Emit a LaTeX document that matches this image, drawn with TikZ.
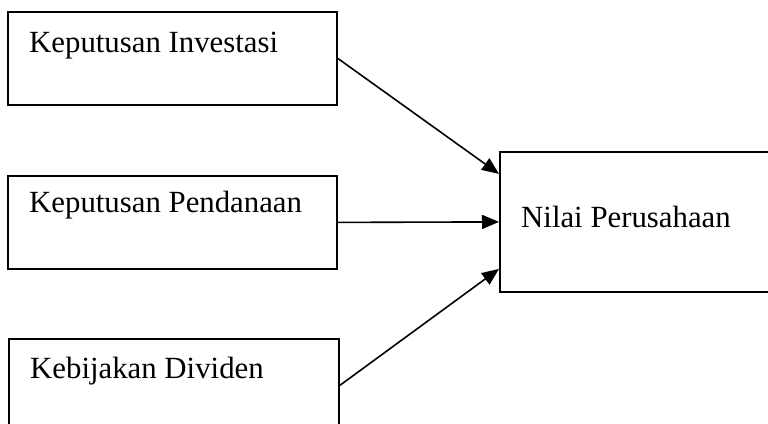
\documentclass[tikz,border=0pt]{standalone}
\usepackage{fontspec}
\setmainfont{Liberation Serif}
\usetikzlibrary{arrows.meta}
\begin{document}
\begin{tikzpicture}[x=1pt,y=-1pt,
    kotak/.style={draw,line width=1.8pt,rectangle,anchor=north west,inner sep=0pt},
    teks/.style={anchor=base west,inner sep=0pt,font=\fontsize{30.8}{36}\selectfont},
    panah/.style={line width=1.6pt,-{Triangle[length=17pt,width=14pt]}}]
    \clip (0,0) rectangle (768,423);
    \node[kotak,minimum width=329pt,minimum height=93pt](inv) at (7,11) {};
    \node[kotak,minimum width=329pt,minimum height=93pt](dana) at (7,175) {};
    \node[kotak,minimum width=330pt,minimum height=93pt](div) at (8,338) {};
    \node[kotak,minimum width=290pt,minimum height=140pt](nilai) at (499,151) {};
    \node[teks](tinv) at (29,52) {Keputusan Investasi};
    \node[teks](tdana) at (29,212) {Keputusan Pendanaan};
    \node[teks](tdiv) at (30,378) {Kebijakan Dividen};
    \node[teks](tnilai) at (521,227) {Nilai Perusahaan};
    \coordinate (atas) at ([yshift=48pt]nilai.west);
    \coordinate (bawah) at ([yshift=-47pt]nilai.west);
    \draw[panah] (inv.east) -- (atas);
    \draw[panah] (dana.east) -- (nilai.west);
    \draw[panah] (div.east) -- (bawah);
\end{tikzpicture}
\end{document}
